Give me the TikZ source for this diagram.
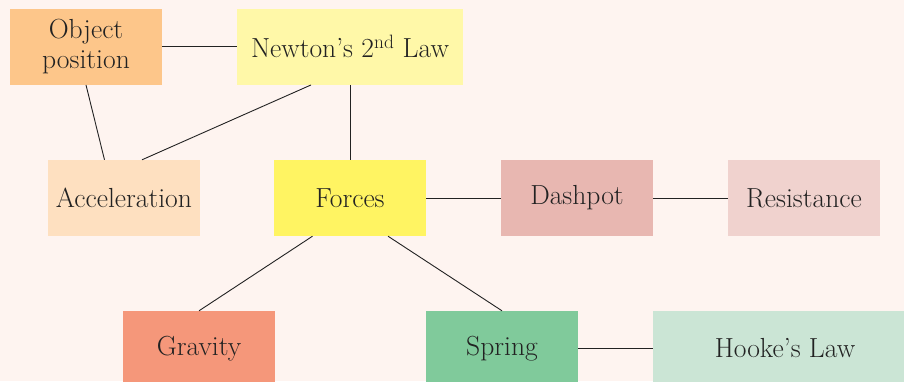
\documentclass[tikz,border=0pt]{standalone}
\usepackage{tikz}
\usetikzlibrary{positioning,calc}
\definecolor{bgpink}{HTML}{FEF4F0}
\definecolor{objcol}{HTML}{FDC68A}
\definecolor{newtcol}{HTML}{FFF8A8}
\definecolor{acccol}{HTML}{FEE0C0}
\definecolor{forcol}{HTML}{FFF462}
\definecolor{dashcol}{HTML}{E8B7B1}
\definecolor{rescol}{HTML}{F0D2CE}
\definecolor{gravcol}{HTML}{F5977A}
\definecolor{sprcol}{HTML}{80CA9B}
\definecolor{hookcol}{HTML}{CBE5D5}
\definecolor{inkgray}{HTML}{222222}

\begin{document}
\begin{tikzpicture}[x=1pt,y=-1pt,
  box/.style={rectangle,inner sep=0pt,minimum width=152pt,minimum height=76pt,
    text=inkgray,align=center,font=\fontsize{27.6}{30.4}\selectfont},
  link/.style={draw=inkgray,line width=0.9pt}]
\clip (0,0) rectangle (904,381);
\fill[bgpink] (0,0) rectangle (904,381);
\node[box,fill=objcol] (obj) at (86,46.75) {Object\\position};
\node[box,fill=newtcol,minimum width=226pt] (newt) at (350,46.75) {Newton's 2\textsuperscript{nd} Law};
\node[box,fill=acccol] (acc) at (124,198) {Acceleration};
\node[box,fill=forcol] (forces) at (350,198) {Forces};
\node[box,fill=dashcol] (dash) at (577,198) {Dashpot};
\node[box,fill=rescol] (resist) at (804,198) {Resistance};
\node[box,fill=gravcol,minimum height=75pt] (grav) at (199,348.5) {Gravity};
\node[box,fill=sprcol,minimum height=75pt] (spring) at (502,348.5) {Spring};
\node[box,fill=hookcol,minimum height=75pt,minimum width=264pt] (hooke) at (785,348.5) {Hooke's Law};
\draw[link] (obj.east) -- (newt.west);
\draw[link] (obj.south) -- ([xshift=-19.5pt]acc.north);
\draw[link] ([xshift=-39pt]newt.south) -- ([xshift=18pt]acc.north);
\draw[link] (newt.south) -- (forces.north);
\draw[link] (forces.east) -- (dash.west);
\draw[link] (dash.east) -- (resist.west);
\draw[link] ([xshift=-37.5pt]forces.south) -- (grav.north);
\draw[link] ([xshift=38pt]forces.south) -- (spring.north);
\draw[link] (spring.east) -- (hooke.west);
\end{tikzpicture}
\end{document}
